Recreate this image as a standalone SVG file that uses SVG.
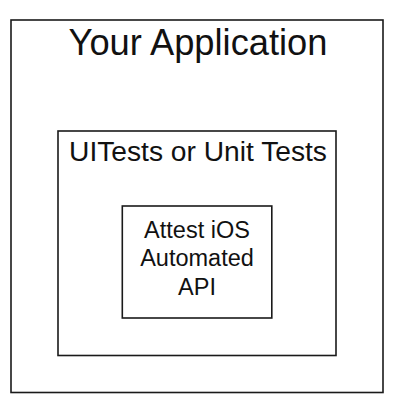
<svg xmlns="http://www.w3.org/2000/svg" width="410" height="413" viewBox="0 0 410 413">
<style>
rect.box{fill:none;stroke:#1a1a1a;stroke-width:1.6}
text{font-family:"Liberation Sans",Arial,sans-serif;fill:#111;text-anchor:middle}
</style>
<rect width="410" height="413" fill="#fff"/>
<g id="app">
<rect class="box" x="11" y="20" width="372" height="372.5"/>
<text x="198" y="54.5" font-size="36.3">Your Application</text>
</g>
<g id="tests">
<rect class="box" x="58" y="131" width="278" height="224.5"/>
<text x="198" y="160.5" font-size="28.2">UITests or Unit Tests</text>
</g>
<g id="api">
<rect class="box" x="122.3" y="206" width="149.5" height="112"/>
<text x="197" y="237.5" font-size="23.5">Attest iOS</text>
<text x="197" y="266" font-size="23.5">Automated</text>
<text x="197" y="294.5" font-size="23.5">API</text>
</g>
<g id="connectors"/>
</svg>
